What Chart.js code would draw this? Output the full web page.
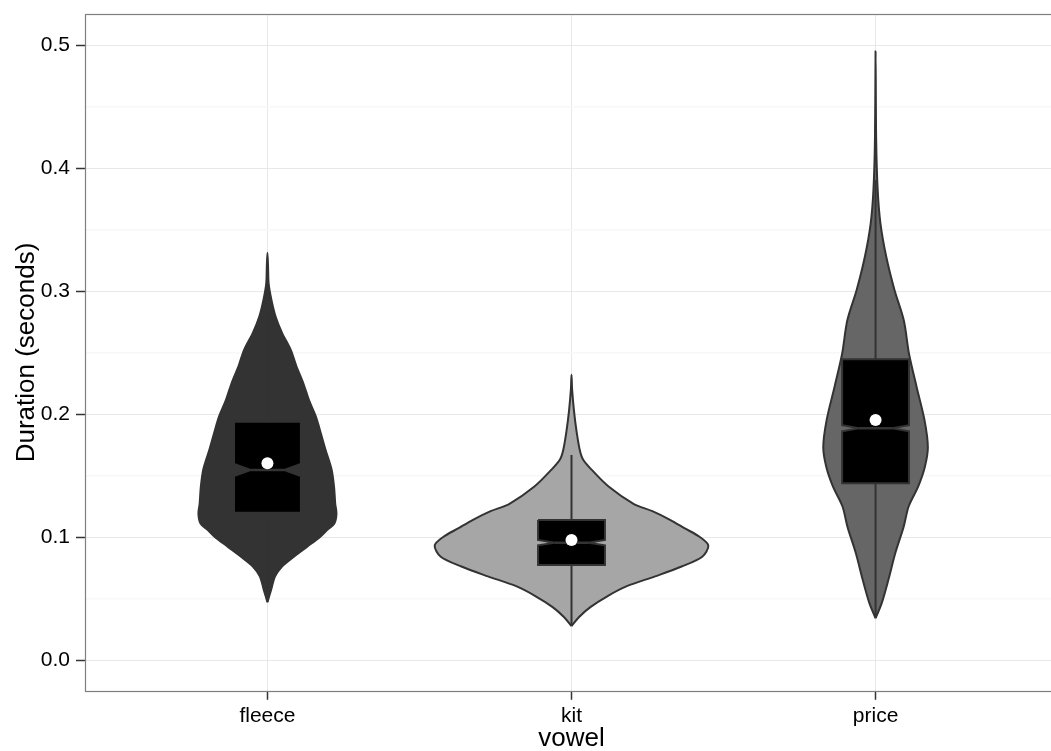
<!DOCTYPE html>
<html>
<head>
<meta charset="utf-8">
<title>Vowel duration</title>
<script src="https://cdn.jsdelivr.net/npm/chart.js@4.4.1/dist/chart.umd.min.js"></script>
<style>
  html, body { margin: 0; padding: 0; background: #ffffff; overflow: hidden; }
  #wrap { position: relative; width: 1064px; height: 751px; }
  canvas { display: block; }
</style>
</head>
<body>
<div id="wrap"><canvas id="chart"></canvas></div>
<script>
// Categories
const vowels = ['fleece', 'kit', 'price'];

// Violin outlines: duration (s) and density half-width (in x-axis category units)
const fleeceDur  = [0.047, 0.057, 0.068, 0.076, 0.084, 0.092, 0.100, 0.106, 0.111, 0.119, 0.127, 0.141, 0.155, 0.171, 0.184, 0.198, 0.211, 0.225, 0.239, 0.252, 0.266, 0.279, 0.293, 0.306, 0.320, 0.331];
const fleeceHalf = [0.000, 0.012, 0.025, 0.048, 0.087, 0.130, 0.173, 0.198, 0.220, 0.227, 0.223, 0.219, 0.211, 0.191, 0.176, 0.159, 0.137, 0.118, 0.095, 0.077, 0.048, 0.027, 0.013, 0.004, 0.002, 0.000];

const kitDur  = [0.0276, 0.035, 0.043, 0.052, 0.060, 0.068, 0.076, 0.084, 0.093, 0.100, 0.107, 0.114, 0.121, 0.127, 0.141, 0.155, 0.163, 0.171, 0.187, 0.203, 0.220, 0.232];
const kitHalf = [0.000, 0.025, 0.062, 0.119, 0.182, 0.275, 0.362, 0.430, 0.450, 0.422, 0.373, 0.324, 0.266, 0.204, 0.122, 0.065, 0.038, 0.027, 0.016, 0.008, 0.002, 0.000];

const priceDur  = [0.034, 0.046, 0.065, 0.087, 0.108, 0.125, 0.141, 0.157, 0.173, 0.195, 0.222, 0.249, 0.276, 0.301, 0.328, 0.355, 0.382, 0.423, 0.495];
const priceHalf = [0.000, 0.020, 0.042, 0.065, 0.092, 0.109, 0.140, 0.162, 0.172, 0.161, 0.135, 0.110, 0.093, 0.062, 0.035, 0.016, 0.007, 0.002, 0.000];

// Notched box plot statistics per vowel
const q1          = [0.1198, 0.0772, 0.1437];
const medians     = [0.1545, 0.0954, 0.1884];
const q3          = [0.1938, 0.1138, 0.2445];
const notchLow    = [0.1495, 0.0932, 0.1859];
const notchHigh   = [0.1595, 0.0976, 0.1909];
const whiskerLow  = [0.0474, 0.0276, 0.0340];
const whiskerHigh = [0.3050, 0.1667, 0.3900];

// Mean durations
const means = [0.160, 0.0976, 0.1951];

// Y-axis tick values
const yMajorTicks = [0.0, 0.1, 0.2, 0.3, 0.4, 0.5];
const yMinorTicks = [0.05, 0.15, 0.25, 0.35, 0.45];

// Styling
const violinFills = ['#333333', '#a6a6a6', '#666666'];
const ink = '#333333';
const boxHalfWidth = 0.11;
const fontFamily = "'Liberation Sans', Arial, Helvetica, sans-serif";

const violinSeries = [
  { dur: fleeceDur, half: fleeceHalf },
  { dur: kitDur, half: kitHalf },
  { dur: priceDur, half: priceHalf }
];

const isMajorY = v => yMajorTicks.some(t => Math.abs(t - v) < 1e-9);

const datasets = [];

// Violins: closed outline up the right side and back down the left side
violinSeries.forEach((s, i) => {
  const c = i + 1;
  const pts = [];
  for (let k = 0; k < s.dur.length; k++) pts.push({ x: c + s.half[k], y: s.dur[k] });
  for (let k = s.dur.length - 2; k >= 0; k--) pts.push({ x: c - s.half[k], y: s.dur[k] });
  datasets.push({
    type: 'line',
    data: pts,
    indexAxis: 'y',
    fill: 'shape',
    backgroundColor: violinFills[i],
    borderColor: ink,
    borderWidth: 2,
    borderJoinStyle: 'round',
    tension: 0.3,
    pointRadius: 0,
    order: 4
  });
});

// Whiskers
const whiskerPts = [];
vowels.forEach((_, i) => {
  const c = i + 1;
  whiskerPts.push({ x: c, y: whiskerLow[i] }, { x: c, y: q1[i] }, { x: c, y: null });
  whiskerPts.push({ x: c, y: q3[i] }, { x: c, y: whiskerHigh[i] }, { x: c, y: null });
});
datasets.push({
  type: 'line',
  data: whiskerPts,
  borderColor: ink,
  borderWidth: 2,
  pointRadius: 0,
  fill: false,
  spanGaps: false,
  order: 3
});

// Notched boxes
vowels.forEach((_, i) => {
  const c = i + 1;
  const w = boxHalfWidth;
  const pts = [
    { x: c - w, y: q3[i] },
    { x: c + w, y: q3[i] },
    { x: c + w, y: notchHigh[i] },
    { x: c + w / 2, y: medians[i] },
    { x: c + w, y: notchLow[i] },
    { x: c + w, y: q1[i] },
    { x: c - w, y: q1[i] },
    { x: c - w, y: notchLow[i] },
    { x: c - w / 2, y: medians[i] },
    { x: c - w, y: notchHigh[i] },
    { x: c - w, y: q3[i] }
  ];
  datasets.push({
    type: 'line',
    data: pts,
    indexAxis: 'y',
    fill: 'shape',
    backgroundColor: '#000000',
    borderColor: ink,
    borderWidth: 2,
    borderJoinStyle: 'miter',
    tension: 0,
    pointRadius: 0,
    order: 2
  });
});

// Median segments across the notch
const medianPts = [];
vowels.forEach((_, i) => {
  const c = i + 1;
  medianPts.push({ x: c - boxHalfWidth / 2, y: medians[i] }, { x: c + boxHalfWidth / 2, y: medians[i] }, { x: c, y: null });
});
datasets.push({
  type: 'line',
  data: medianPts,
  borderColor: ink,
  borderWidth: 2.5,
  pointRadius: 0,
  fill: false,
  spanGaps: false,
  order: 1
});

// Means
datasets.push({
  type: 'line',
  data: means.map((m, i) => ({ x: i + 1, y: m })),
  showLine: false,
  pointRadius: 6,
  pointBackgroundColor: '#ffffff',
  pointBorderColor: '#ffffff',
  pointBorderWidth: 0,
  order: 0
});

// Grey frame around the plotting panel
const panelBorder = {
  id: 'panelBorder',
  afterDatasetsDraw(chart) {
    const { ctx, chartArea: a } = chart;
    ctx.save();
    ctx.strokeStyle = '#7f7f7f';
    ctx.lineWidth = 1.2;
    ctx.strokeRect(Math.round(a.left) + 0.5, Math.round(a.top) + 0.5,
                   Math.round(a.right - a.left), Math.round(a.bottom - a.top));
    ctx.restore();
  }
};

// Fixed axis sizes, with no extra label overhang padding
const fixSize = (width, height) => s => {
  if (width !== null) s.width = width;
  if (height !== null) s.height = height;
  s.paddingTop = 0;
  s.paddingBottom = 0;
  s.paddingLeft = 0;
  s.paddingRight = 0;
};

new Chart(document.getElementById('chart'), {
  type: 'line',
  data: { datasets },
  plugins: [panelBorder],
  options: {
    responsive: true,
    maintainAspectRatio: false,
    devicePixelRatio: 1,
    animation: false,
    events: [],
    layout: { padding: { top: 14.25, left: 0, right: 0, bottom: 0 } },
    plugins: {
      legend: { display: false },
      tooltip: { enabled: false }
    },
    scales: {
      x: {
        type: 'linear',
        min: 0.4,
        max: 3.6,
        afterBuildTicks: s => { s.ticks = vowels.map((_, i) => ({ value: i + 1 })); },
        afterFit: fixSize(null, 60.25),
        ticks: {
          callback: v => vowels[Math.round(v) - 1],
          font: { family: fontFamily, size: 21 },
          color: '#000000',
          padding: 4,
          maxRotation: 0,
          autoSkip: false
        },
        grid: {
          color: '#e8e8e8',
          lineWidth: 1,
          tickLength: 9,
          tickColor: ink,
          tickWidth: 1.5
        },
        border: { display: false },
        title: {
          display: true,
          text: 'vowel',
          color: '#000000',
          font: { family: fontFamily, size: 26, lineHeight: 0.9 },
          padding: { top: 0, bottom: 0 }
        }
      },
      y: {
        type: 'linear',
        min: -0.025,
        max: 0.525,
        afterBuildTicks: s => {
          s.ticks = yMajorTicks.concat(yMinorTicks).sort((a, b) => a - b).map(v => ({ value: v }));
        },
        afterFit: fixSize(85, null),
        ticks: {
          callback: v => (isMajorY(v) ? v.toFixed(1) : ''),
          font: { family: fontFamily, size: 21 },
          color: '#000000',
          padding: 6,
          autoSkip: false
        },
        grid: {
          color: ctx => (isMajorY(ctx.tick.value) ? '#e8e8e8' : '#f8f8f8'),
          lineWidth: ctx => (isMajorY(ctx.tick.value) ? 1 : 1.5),
          tickLength: 9,
          tickColor: ctx => (isMajorY(ctx.tick.value) ? ink : 'rgba(0,0,0,0)'),
          tickWidth: 1.5
        },
        border: { display: false },
        title: {
          display: true,
          text: 'Duration (seconds)',
          color: '#000000',
          font: { family: fontFamily, size: 26 },
          padding: { top: 11, bottom: 0 }
        }
      }
    }
  }
});
</script>
</body>
</html>
